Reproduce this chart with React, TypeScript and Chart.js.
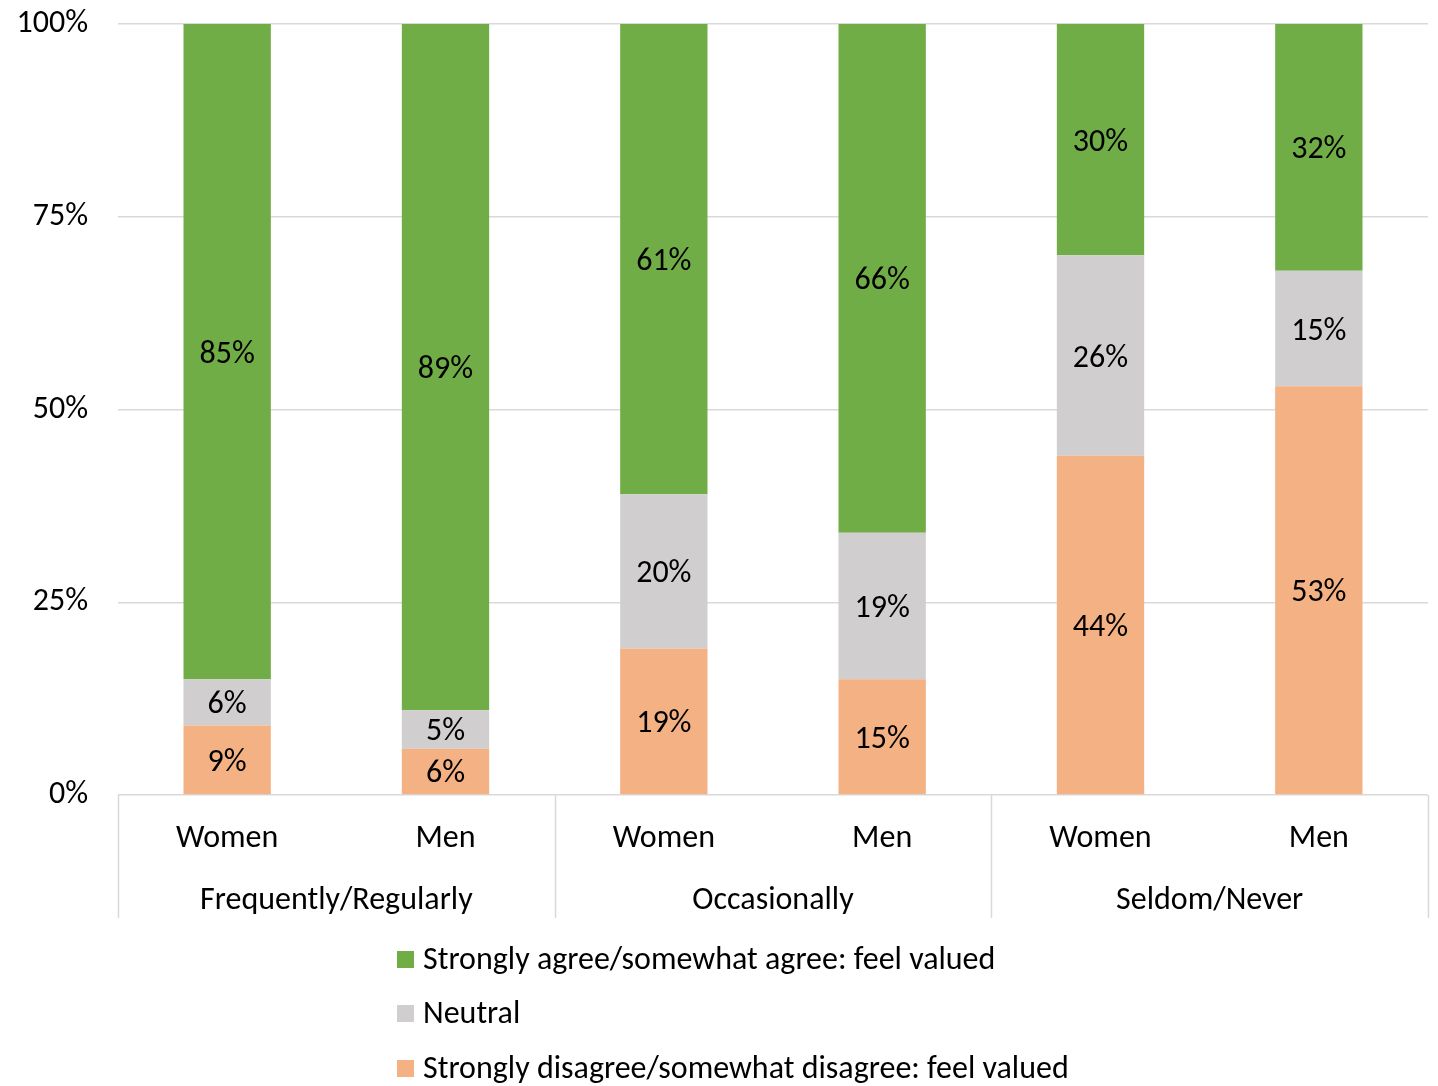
import React, { useEffect, useRef } from "react";
import { Chart, registerables } from "chart.js";

Chart.register(...registerables);

const categories = ["Women", "Men", "Women", "Men", "Women", "Men"];
const groups = ["Frequently/Regularly", "Occasionally", "Seldom/Never"];
const disagreeValues = [9, 6, 19, 15, 44, 53];
const neutralValues = [6, 5, 20, 19, 26, 15];
const agreeValues = [85, 89, 61, 66, 30, 32];
const yTicks = [0, 25, 50, 75, 100];

const seriesNames = [
  "Strongly disagree/somewhat disagree: feel valued",
  "Neutral",
  "Strongly agree/somewhat agree: feel valued",
];
const seriesColors = ["#F4B183", "#D0CECE", "#70AD47"];

const FONT = "Carlito, Lato, 'Open Sans', sans-serif";
const FS = 32;
const GRID = "#d9d9d9";

const overlayPlugin = {
  id: "overlay",
  afterDatasetsDraw(chart: any) {
    const ctx = chart.ctx;
    ctx.save();
    ctx.font = `${FS}px ${FONT}`;
    ctx.fillStyle = "#000";
    ctx.textAlign = "center";
    ctx.textBaseline = "middle";
    chart.data.datasets.forEach((ds: any, di: number) => {
      const meta = chart.getDatasetMeta(di);
      meta.data.forEach((el: any, i: number) => {
        const v = ds.data[i];
        const cy = (el.y + el.base) / 2;
        ctx.fillText(`${v}%`, el.x, cy + 3);
      });
    });
    ctx.restore();
  },
  afterDraw(chart: any) {
    const ctx = chart.ctx;
    const xs = chart.scales.x;
    const area = chart.chartArea;
    ctx.save();
    ctx.strokeStyle = GRID;
    ctx.lineWidth = 1.5;
    const n = categories.length;
    const step = (area.right - area.left) / n;
    for (let g = 0; g <= groups.length; g++) {
      const x = area.left + g * 2 * step;
      ctx.beginPath();
      ctx.moveTo(Math.round(x) + 0.5, area.bottom);
      ctx.lineTo(Math.round(x) + 0.5, area.bottom + 123);
      ctx.stroke();
    }
    ctx.font = `${FS}px ${FONT}`;
    ctx.fillStyle = "#000";
    ctx.textAlign = "center";
    ctx.textBaseline = "middle";
    groups.forEach((g, gi) => {
      const x = (xs.getPixelForValue(gi * 2) + xs.getPixelForValue(gi * 2 + 1)) / 2;
      ctx.fillText(g, x, area.bottom + 106);
    });
    ctx.textAlign = "left";
    const legendX = 397;
    const legendYs = [959, 1013, 1068];
    [2, 1, 0].forEach((di, k) => {
      const y = legendYs[k];
      ctx.fillStyle = seriesColors[di];
      ctx.fillRect(legendX, y - 8, 17, 17);
      ctx.fillStyle = "#000";
      ctx.fillText(seriesNames[di], legendX + 26, y + 2);
    });
    ctx.restore();
  },
};

export default function App() {
  const ref = useRef<HTMLCanvasElement>(null);
  useEffect(() => {
    document.body.style.margin = "0";
    const chart = new Chart(ref.current!, {
      type: "bar",
      data: {
        labels: categories,
        datasets: [
          { label: seriesNames[0], data: disagreeValues, backgroundColor: seriesColors[0] },
          { label: seriesNames[1], data: neutralValues, backgroundColor: seriesColors[1] },
          { label: seriesNames[2], data: agreeValues, backgroundColor: seriesColors[2] },
        ],
      },
      options: {
        animation: false,
        responsive: false,
        maintainAspectRatio: false,
        layout: { padding: { top: 24, right: 10, left: 0, bottom: 0 } },
        datasets: { bar: { barPercentage: 0.4, categoryPercentage: 1 } },
        plugins: { legend: { display: false }, tooltip: { enabled: false } },
        scales: {
          x: {
            stacked: true,
            grid: { display: false, drawTicks: false },
            border: { display: false },
            ticks: {
              color: "#000",
              font: { family: FONT, size: FS },
              padding: 25,
              maxRotation: 0,
            },
            afterFit: (s: any) => {
              s.height = 1086 - 795;
              s.paddingLeft = 0;
              s.paddingRight = 0;
            },
          },
          y: {
            stacked: true,
            min: 0,
            max: 100,
            afterBuildTicks: (s: any) => {
              s.ticks = yTicks.map((v) => ({ value: v }));
            },
            grid: { color: GRID, lineWidth: 1.5, drawTicks: false },
            border: { display: false },
            ticks: {
              color: "#000",
              font: { family: FONT, size: FS },
              padding: 30,
              callback: (v: any) => `${v}%`,
            },
            afterFit: (s: any) => {
              s.width = 118;
              s.paddingTop = 0;
              s.paddingBottom = 0;
            },
          },
        },
      },
      plugins: [overlayPlugin],
    });
    return () => chart.destroy();
  }, []);
  return <canvas ref={ref} width={1438} height={1086} style={{ display: "block" }} />;
}
